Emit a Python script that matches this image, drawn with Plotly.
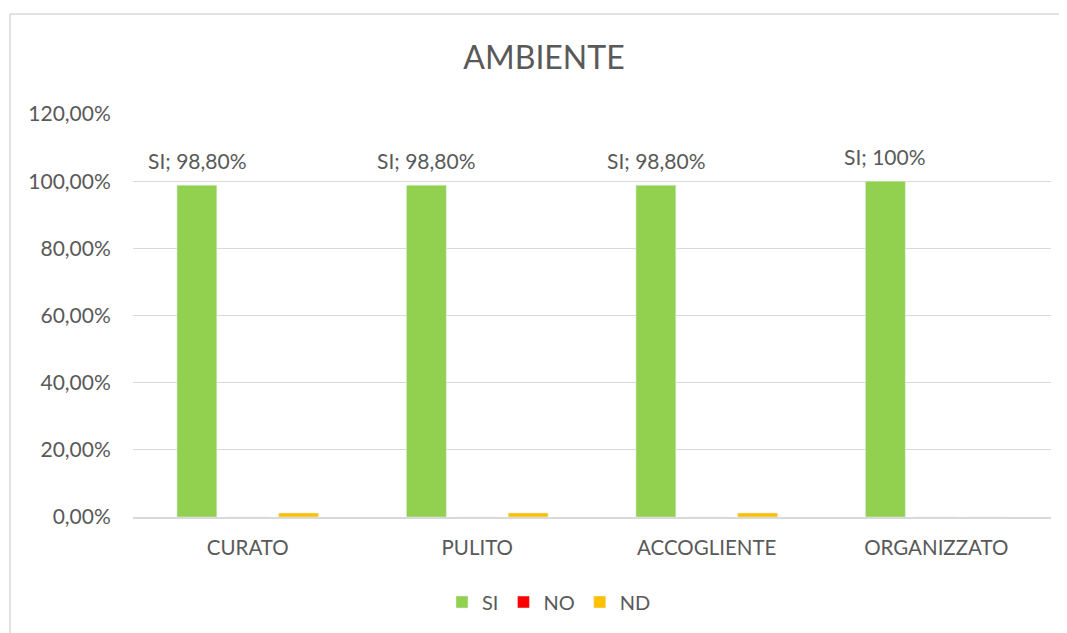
import plotly.graph_objects as go

categories = ["CURATO", "PULITO", "ACCOGLIENTE", "ORGANIZZATO"]
si_values = [98.8, 98.8, 98.8, 100.0]
no_values = [0.0, 0.0, 0.0, 0.0]
nd_values = [1.2, 1.2, 1.2, 0.0]
si_labels = ["SI; 98,80%", "SI; 98,80%", "SI; 98,80%", "SI; 100%"]
tick_vals = [0, 20, 40, 60, 80, 100, 120]
tick_text = ["0,00%", "20,00%", "40,00%", "60,00%", "80,00%", "100,00%", "120,00%"]

FONT = "Lato, 'Open Sans', sans-serif"
TXT = "#595959"
OFF = 8  # page body margin
W, H = 1067 - OFF, 633 - OFF
L, R, T, B = 133 - OFF, 16, 114 - OFF, 116
pw, ph = W - L - R, H - T - B

fig = go.Figure()
fig.add_trace(go.Bar(name="SI", x=categories, y=si_values, marker_color="#92D050"))
fig.add_trace(go.Bar(name="NO", x=categories, y=no_values, marker_color="#FF0000"))
fig.add_trace(go.Bar(name="ND", x=categories, y=nd_values, marker_color="#FFC000"))

slot = pw / len(categories) * (1 - 0.335) / 3
for c, v, t in zip(categories, si_values, si_labels):
    fig.add_annotation(x=c, y=v, text=t, showarrow=False, xshift=-slot,
                       yshift=25, yanchor="middle",
                       font=dict(family=FONT, size=21, color=TXT))

# outer chart-area frame
fig.add_shape(type="rect", xref="paper", yref="paper",
              x0=(10 - OFF - L) / pw, x1=(W + 50 - L) / pw,
              y0=-(H + 50 - T - ph) / ph, y1=(H - B - (14 - OFF)) / ph,
              line=dict(color="#D9D9D9", width=1.5), fillcolor="rgba(0,0,0,0)", layer="below")

fig.update_layout(
    width=W, height=H,
    margin=dict(l=L, r=R, t=T, b=B, autoexpand=False),
    paper_bgcolor="white", plot_bgcolor="white",
    barmode="group", bargap=0.335, bargroupgap=0.216,
    title=dict(text="AMBIENTE", x=(544 - OFF) / W, xanchor="center", y=1 - (58 - OFF) / H, yanchor="middle",
               font=dict(family=FONT, size=32, color=TXT)),
    font=dict(family=FONT, size=20, color=TXT),
    legend=dict(orientation="h", x=(442 - OFF - L) / pw, xanchor="left", y=(517 - 602) / ph, yanchor="middle",
                font=dict(family=FONT, size=20, color=TXT), itemwidth=30, tracegroupgap=0),
    xaxis=dict(showgrid=False, showline=True, linecolor="#D9D9D9", linewidth=1.5,
               ticks="outside", ticklen=12, tickcolor="rgba(0,0,0,0)",
               tickfont=dict(family=FONT, size=20.5, color=TXT)),
    yaxis=dict(range=[0, 120], tickvals=tick_vals, ticktext=tick_text, showgrid=True,
               gridcolor="#D9D9D9", gridwidth=1.3, zeroline=False, showline=False,
               ticks="outside", ticklen=17, tickcolor="rgba(0,0,0,0)",
               tickfont=dict(family=FONT, size=21, color=TXT)),
)

fig.write_html("out.html")
